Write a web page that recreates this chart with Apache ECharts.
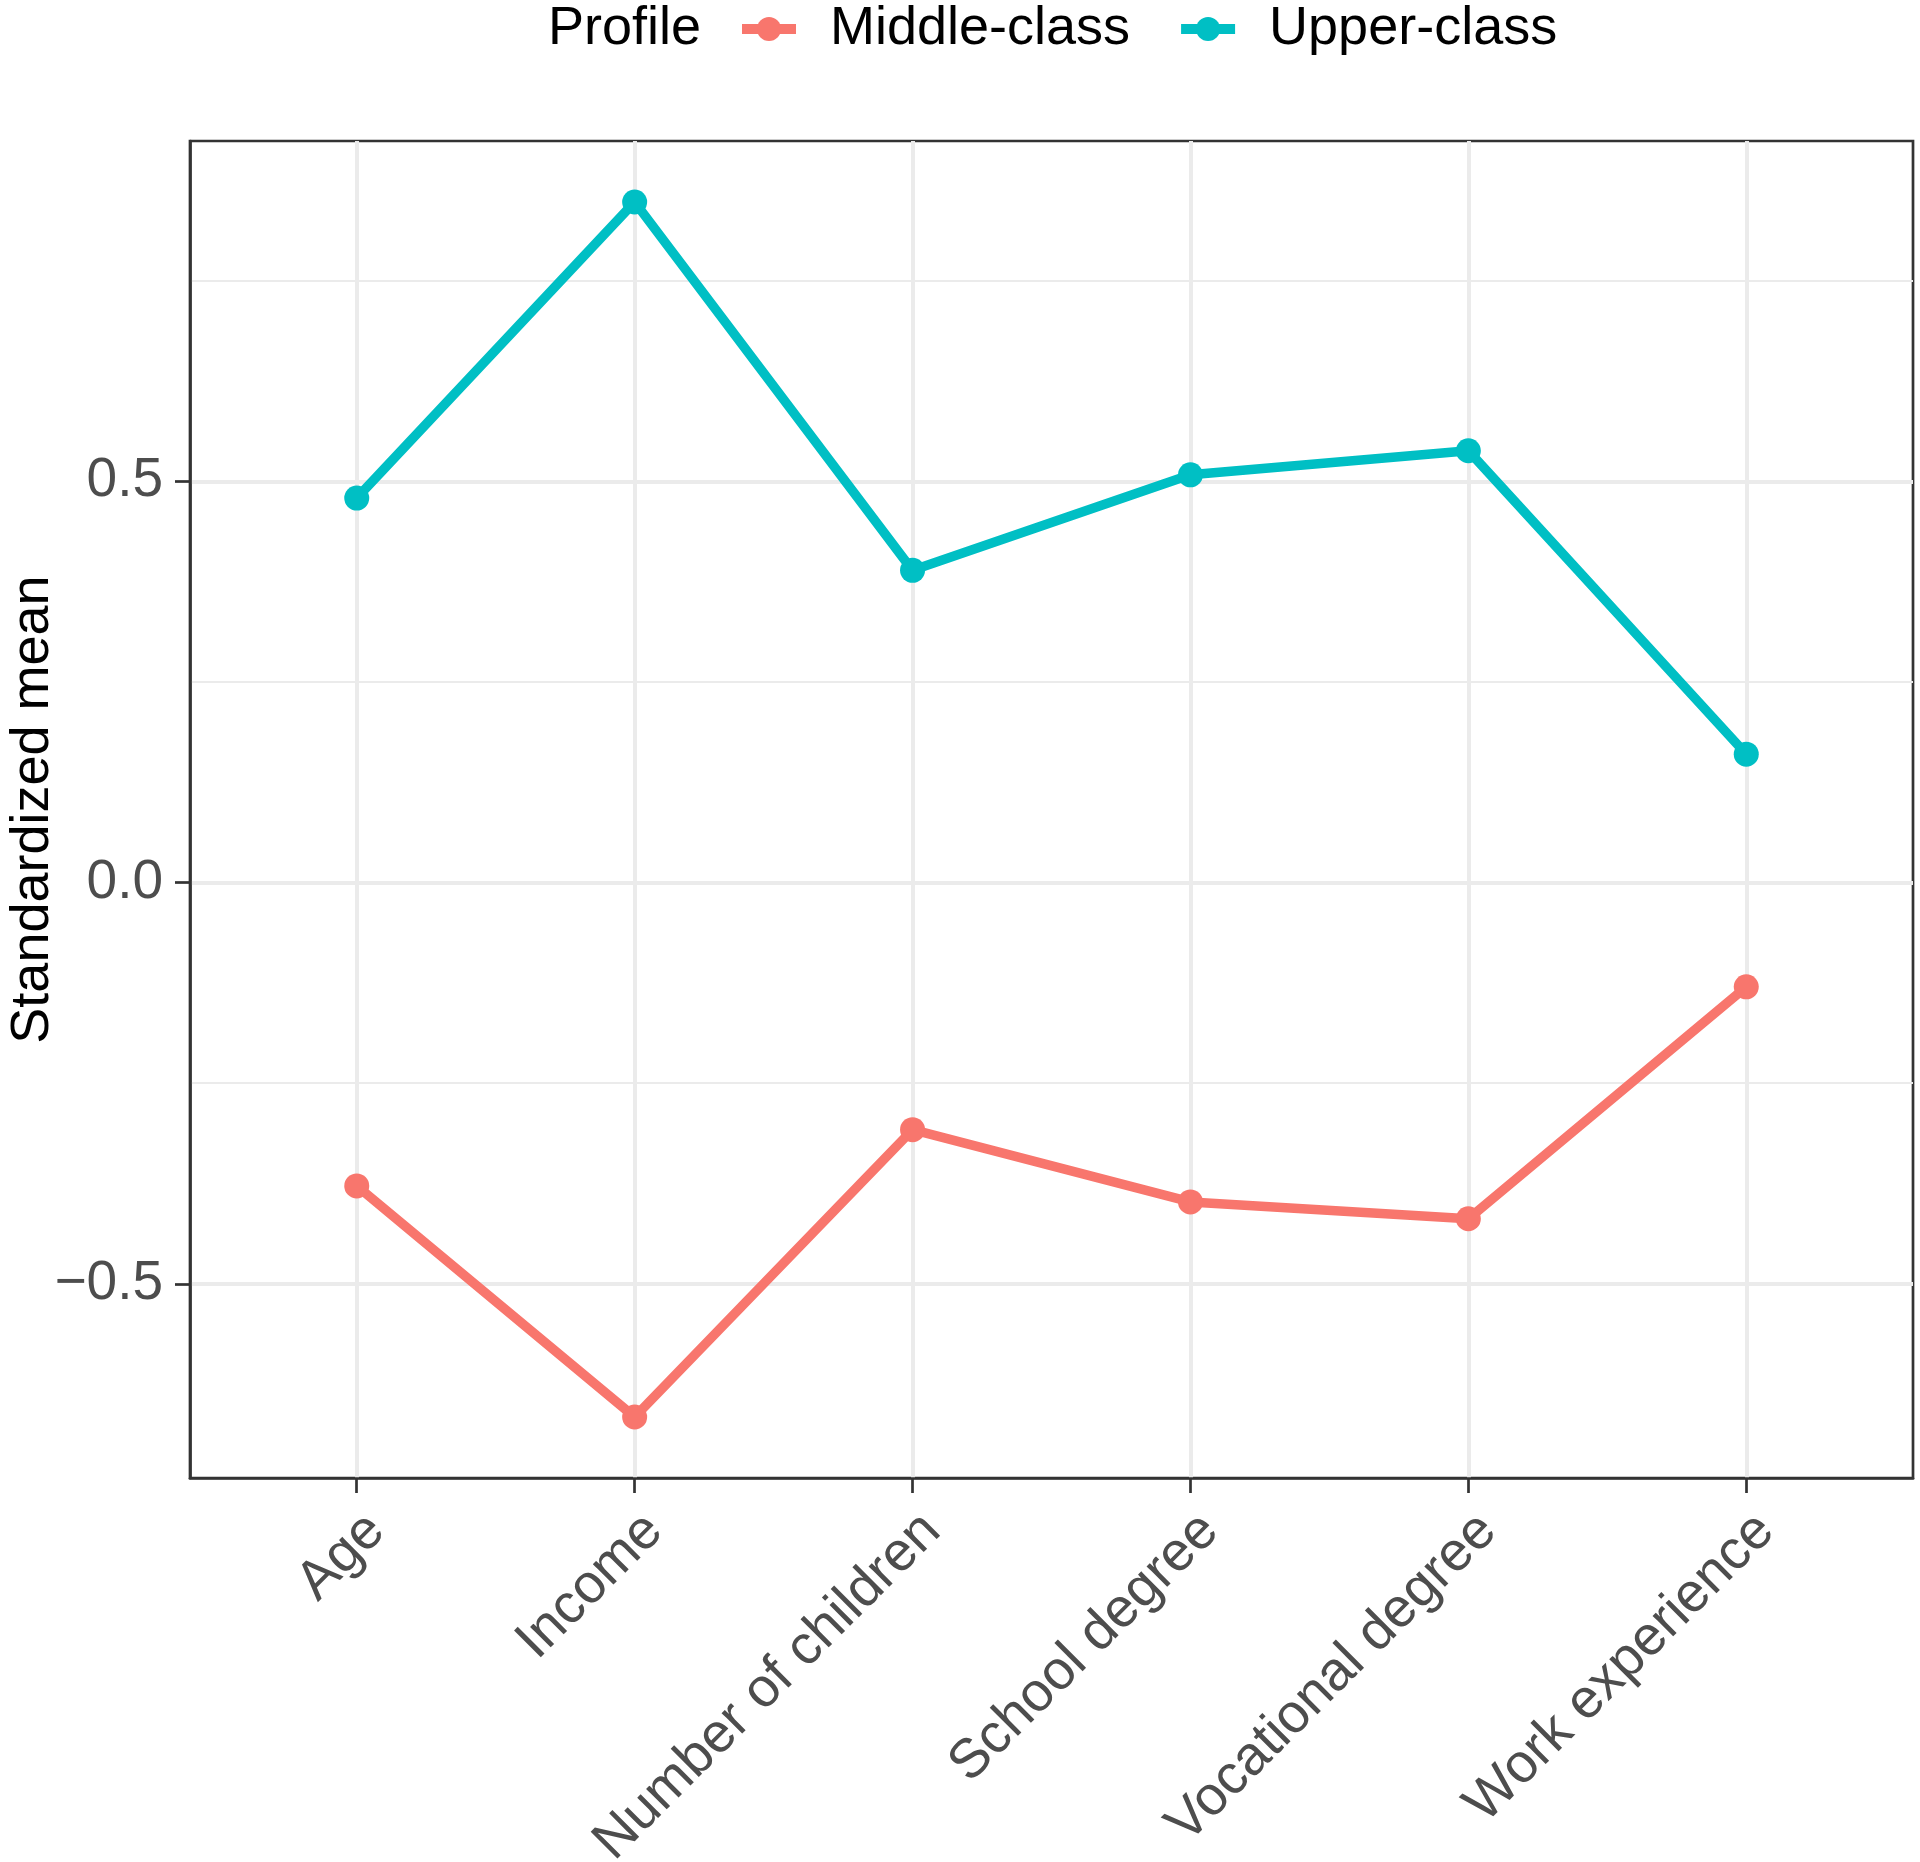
<!DOCTYPE html>
<html>
<head>
<meta charset="utf-8">
<script src="https://cdn.jsdelivr.net/npm/echarts@6/dist/echarts.min.js"></script>
<style>
  html, body { margin: 0; padding: 0; background: #fff; }
  #chart { width: 1920px; height: 1862px; }
</style>
</head>
<body>
<div id="chart"></div>
<script>
const categories = ['Age', 'Income', 'Number of children', 'School degree', 'Vocational degree', 'Work experience'];
const middleClass = [-0.378, -0.666, -0.308, -0.398, -0.419, -0.130];
const upperClass = [0.479, 0.848, 0.389, 0.508, 0.538, 0.160];
const yMajorTicks = [-0.5, 0, 0.5];
const yMinorTicks = [-0.25, 0.25, 0.75];

const FONT = 'Liberation Sans, Arial, sans-serif';
const xIdx = categories.map((c, i) => i);

const chart = echarts.init(document.getElementById('chart'));

chart.setOption({
  animation: false,
  backgroundColor: '#fff',
  title: {
    text: 'Profile',
    left: 543,
    top: -3,
    textStyle: { fontFamily: FONT, fontSize: 54, fontWeight: 'normal', color: '#000' }
  },
  legend: {
    left: 732,
    top: -3,
    itemWidth: 54,
    itemHeight: 30,
    itemGap: 46,
    lineStyle: { width: 10 },
    textStyle: { fontFamily: FONT, fontSize: 54, color: '#000', padding: [0, 0, 0, 29] },
    data: ['Middle-class', 'Upper-class']
  },
  grid: {
    left: 190, right: 7, top: 141, bottom: 384,
    show: true, borderColor: '#333', borderWidth: 2.7,
    containLabel: false,
    outerBoundsMode: 'none'
  },
  xAxis: {
    type: 'value',
    min: -0.6,
    max: 5.6,
    axisLine: { show: true, onZero: false, lineStyle: { color: '#333', width: 2.7 } },
    axisTick: { show: true, length: 15, customValues: xIdx, lineStyle: { color: '#333', width: 2.7 } },
    axisLabel: {
      customValues: xIdx,
      rotate: 45,
      margin: 25,
      align: 'right',
      verticalAlign: 'top',
      fontFamily: FONT,
      fontSize: 55,
      color: '#4D4D4D',
      formatter: v => categories[Math.round(v)]
    },
    splitLine: { show: true, lineStyle: { color: '#EBEBEB', width: 4 } }
  },
  yAxis: [
    {
      type: 'value',
      min: -0.742,
      max: 0.924,
      name: 'Standardized mean',
      nameLocation: 'middle',
      nameGap: 130,
      nameMoveOverlap: false,
      nameTextStyle: { fontFamily: FONT, fontSize: 54, color: '#000' },
      axisLine: { show: true, onZero: false, lineStyle: { color: '#333', width: 2.7 } },
      axisTick: { show: true, length: 15, customValues: yMajorTicks, lineStyle: { color: '#333', width: 2.7 } },
      axisLabel: {
        customValues: yMajorTicks,
        margin: 27,
        fontFamily: FONT,
        fontSize: 55,
        color: '#4D4D4D',
        formatter: v => (v < 0 ? '\u2212' + Math.abs(v).toFixed(1) : v.toFixed(1))
      },
      splitLine: { show: true, lineStyle: { color: '#EBEBEB', width: 4 } }
    },
    {
      // minor grid lines
      type: 'value',
      min: -0.742,
      max: 0.924,
      position: 'left',
      axisLine: { show: false, onZero: false },
      axisTick: { show: false, customValues: yMinorTicks },
      axisLabel: { show: false, customValues: yMinorTicks },
      splitLine: { show: true, lineStyle: { color: '#EBEBEB', width: 2 } }
    }
  ],
  series: [
    {
      name: 'Middle-class',
      type: 'line',
      data: middleClass.map((v, i) => [i, v]),
      color: '#F8766D',
      lineStyle: { width: 9.5 },
      symbol: 'circle',
      symbolSize: 25,
      z: 3
    },
    {
      name: 'Upper-class',
      type: 'line',
      data: upperClass.map((v, i) => [i, v]),
      color: '#00BFC4',
      lineStyle: { width: 9.5 },
      symbol: 'circle',
      symbolSize: 25,
      z: 3
    }
  ]
});
</script>
</body>
</html>
